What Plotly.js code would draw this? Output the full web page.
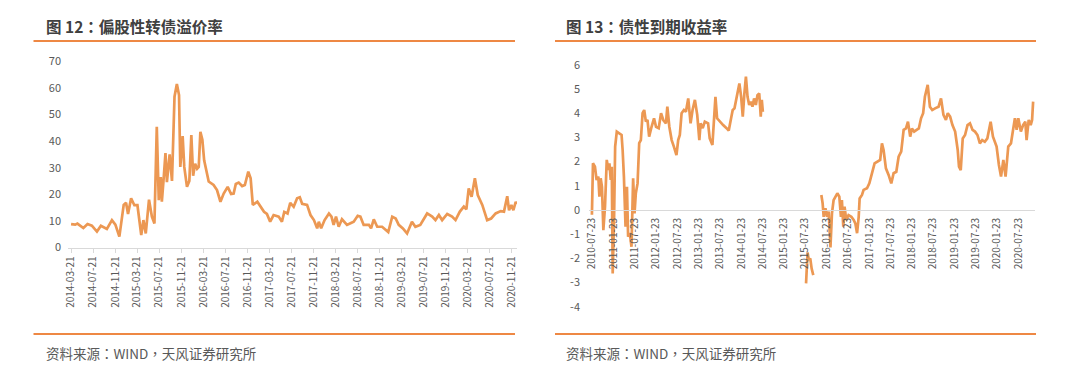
<!DOCTYPE html>
<html>
<head>
<meta charset="utf-8">
<script src="https://cdn.plot.ly/plotly-3.0.1.min.js"></script>
<style>
html,body{margin:0;padding:0;background:#fff;}
#chart{width:1080px;height:369px;}
</style>
</head>
<body>
<div id="chart"></div>
<script>
// ---------- Figure 12: 偏股性转债溢价率 ----------
const leftTitle = "图 12：偏股性转债溢价率";
const leftDates = [
"2014-03-21","2014-04-13","2014-04-25","2014-05-10","2014-05-28","2014-06-20","2014-07-14","2014-08-11","2014-09-02","2014-10-05",
"2014-11-02","2014-11-21","2014-12-13","2015-01-06","2015-01-19","2015-01-30","2015-02-16","2015-03-06","2015-03-23","2015-04-13",
"2015-04-25","2015-05-08","2015-05-26","2015-06-11","2015-06-25","2015-07-08","2015-07-19","2015-07-30","2015-08-05","2015-08-14",
"2015-08-25","2015-09-02","2015-09-17","2015-09-30","2015-10-14","2015-10-27","2015-11-08","2015-11-15","2015-11-28","2015-12-07",
"2015-12-22","2016-01-04","2016-01-15","2016-01-25","2016-02-05","2016-02-16","2016-02-25","2016-03-05","2016-03-16","2016-03-26",
"2016-04-11","2016-04-20","2016-05-17","2016-06-05","2016-06-24","2016-07-12","2016-08-03","2016-08-22","2016-09-05","2016-09-17",
"2016-10-03","2016-10-22","2016-11-06","2016-11-25","2016-12-08","2016-12-20","2017-01-14","2017-02-01","2017-02-20","2017-03-08",
"2017-03-26","2017-04-14","2017-05-12","2017-05-30","2017-06-12","2017-06-30","2017-07-15","2017-08-03","2017-08-22","2017-09-06",
"2017-09-19","2017-10-16","2017-11-04","2017-11-23","2017-12-11","2017-12-20","2018-01-02","2018-01-21","2018-02-14","2018-02-28",
"2018-03-12","2018-03-25","2018-04-09","2018-04-27","2018-05-25","2018-06-13","2018-07-01","2018-07-23","2018-08-07","2018-08-25",
"2018-09-23","2018-10-05","2018-10-20","2018-11-08","2018-12-05","2019-01-08","2019-01-30","2019-02-18","2019-03-07","2019-03-30",
"2019-04-22","2019-05-19","2019-06-07","2019-07-04","2019-08-11","2019-09-08","2019-09-26","2019-10-15","2019-11-02","2019-11-30",
"2019-12-27","2020-01-15","2020-02-08","2020-03-01","2020-03-15","2020-03-28","2020-04-13","2020-05-01","2020-05-17","2020-06-11",
"2020-07-08","2020-07-30","2020-08-24","2020-09-21","2020-10-09","2020-10-27","2020-11-06","2020-11-19","2020-11-30","2020-12-13",
"2020-12-18"];
const leftValues = [
8.8,8.6,9.0,8.2,7.3,8.8,8.2,6.0,8.2,7.0,
10.3,8.6,4.1,16.0,16.8,12.6,18.5,15.9,15.9,4.7,
10.3,5.3,18.0,11.6,9.0,45.4,17.8,26.5,17.2,25.0,
35.5,24.6,35.0,25.0,56.7,61.5,57.3,30.3,41.9,30.3,
22.8,25.0,42.3,27.0,31.5,29.6,30.3,43.5,40.5,32.8,
27.0,24.8,23.5,21.6,17.2,20.3,22.8,20.1,20.3,23.9,
24.4,23.1,23.5,28.5,26.0,16.0,17.2,15.3,13.4,12.6,
9.7,12.2,11.6,9.7,13.4,12.8,16.8,15.3,18.5,18.9,
16.4,16.0,12.2,10.3,7.2,9.7,7.2,10.3,12.8,11.6,
8.5,11.6,7.8,10.6,8.5,9.1,9.7,11.9,11.6,8.5,
8.5,7.2,10.6,7.8,7.8,5.8,11.6,10.9,8.5,7.2,
5.3,9.7,7.8,8.5,12.8,11.6,10.3,12.2,10.3,12.6,
11.6,10.3,13.5,15.4,14.3,22.2,19.1,26.0,19.7,16.0,
10.3,10.9,12.8,13.7,13.5,19.3,14.0,16.0,14.0,17.2,
16.3];
const leftXTicks = ["2014-03-21","2014-07-21","2014-11-21","2015-03-21","2015-07-21","2015-11-21","2016-03-21",
"2016-07-21","2016-11-21","2017-03-21","2017-07-21","2017-11-21","2018-03-21","2018-07-21","2018-11-21",
"2019-03-21","2019-07-21","2019-11-21","2020-03-21","2020-07-21","2020-11-21"];
const leftYTicks = [0,10,20,30,40,50,60,70];

// ---------- Figure 13: 债性到期收益率 ----------
const rightTitle = "图 13：债性到期收益率";
const rightDates = [
"2010-07-23","2010-08-01","2010-08-18","2010-09-01","2010-09-16","2010-09-25","2010-10-06","2010-10-17","2010-10-29","2010-11-12",
"2010-11-27","2010-12-11","2010-12-20","2010-12-31","2011-01-09","2011-01-17","2011-01-29","2011-02-07","2011-02-21","2011-03-11",
"2011-04-03","2011-04-12","2011-04-23","2011-05-07","2011-05-19","2011-05-29","2011-06-13","2011-06-27","2011-07-11","2011-07-23",
"2011-08-03","2011-08-18","2011-09-01","2011-09-15","2011-09-30","2011-10-14","2011-10-28","2011-11-11","2011-11-25","2011-12-16",
"2012-01-06","2012-01-23","2012-02-15","2012-03-06","2012-03-25","2012-04-17","2012-04-29","2012-05-16","2012-06-05","2012-06-24",
"2012-07-16","2012-07-31","2012-08-14","2012-08-29","2012-09-18","2012-10-05","2012-10-25","2012-11-14","2012-12-01","2012-12-21",
"2013-01-10","2013-01-28","2013-02-08","2013-02-26","2013-03-16","2013-04-13","2013-04-27","2013-05-20","2013-06-04","2013-06-15",
"2013-06-29","2013-07-22","2013-08-20","2013-09-18","2013-10-07","2013-10-27","2013-11-10","2013-11-25","2013-12-09","2013-12-23",
"2014-01-06","2014-01-21","2014-02-04","2014-02-18","2014-03-03","2014-03-17","2014-03-31","2014-04-14","2014-04-28","2014-05-12",
"2014-05-27","2014-06-10","2014-06-25","2014-07-08","2014-07-17","2014-07-26",
"2015-01-01",
"2015-07-31","2015-08-13","2015-08-24","2015-09-05","2015-09-17","2015-10-01",
"2015-11-01",
"2015-12-09","2015-12-20","2015-12-29","2016-01-13","2016-01-27","2016-02-10","2016-02-25","2016-03-09","2016-03-23","2016-04-06",
"2016-04-24","2016-05-11","2016-05-25","2016-06-02","2016-06-14","2016-06-25","2016-07-09","2016-07-29","2016-08-22","2016-09-11",
"2016-09-25","2016-10-10","2016-10-24","2016-11-01","2016-11-21","2016-12-05","2017-01-03","2017-01-23","2017-02-15","2017-03-09",
"2017-04-26","2017-05-11","2017-05-25","2017-06-14","2017-07-07","2017-07-30","2017-08-19","2017-09-11","2017-10-01","2017-10-23",
"2017-11-13","2017-12-03","2017-12-20","2018-01-08","2018-01-23","2018-02-11","2018-03-04","2018-03-23","2018-04-11","2018-04-29",
"2018-05-14","2018-06-07","2018-06-26","2018-07-16","2018-08-09","2018-09-08","2018-09-29","2018-10-20","2018-11-10","2018-11-26",
"2018-12-16","2019-01-05","2019-01-28","2019-02-19","2019-03-02","2019-03-17","2019-04-03","2019-04-23","2019-05-14","2019-06-04",
"2019-06-26","2019-07-17","2019-08-07","2019-08-28","2019-09-17","2019-10-09","2019-10-31","2019-11-28","2019-12-18","2020-01-18",
"2020-02-07","2020-02-25","2020-03-16","2020-04-04","2020-04-27","2020-05-20","2020-06-09","2020-06-23","2020-07-08","2020-07-22",
"2020-08-13","2020-09-01","2020-09-20","2020-10-01","2020-10-19","2020-11-05","2020-11-17","2020-11-26"];
const rightValues = [
-0.2,1.93,1.79,1.24,1.38,0.55,1.31,0.96,-0.83,0.14,
2.07,1.65,1.93,1.24,1.79,-2.62,-0.28,2.62,3.24,3.17,
3.10,2.48,1.38,-0.69,0.96,-1.10,-0.96,-1.52,1.31,-0.14,
0.69,1.10,2.76,2.89,4.0,4.13,3.65,3.72,3.03,3.44,
3.79,3.44,3.38,4.0,3.72,3.58,4.27,3.44,2.89,2.62,
2.27,2.89,3.10,4.0,4.13,4.06,4.61,3.58,4.13,4.55,
3.93,2.89,3.58,3.38,3.65,3.58,2.96,2.69,3.65,4.68,
3.79,3.65,3.51,3.38,3.28,3.79,4.13,4.2,4.55,4.82,
5.23,4.68,3.86,4.82,5.51,4.68,4.34,4.48,4.27,4.61,
4.34,4.75,4.82,3.86,4.55,4.06,
null,
-3.03,-1.76,-2.07,-2.0,-2.42,-2.69,
null,
0.62,0.28,-0.28,0.07,-0.28,-0.07,-1.55,-0.14,0.41,0.55,
0.69,0.55,-0.28,0.41,-0.69,0.14,-0.41,-0.21,-0.28,-0.41,
-0.55,-0.96,-0.28,0.48,0.62,0.83,0.90,1.10,1.52,1.93,
2.07,2.75,2.48,1.72,1.45,1.10,1.52,1.58,2.2,2.41,
3.31,3.37,3.65,3.03,3.37,3.24,3.31,3.37,3.79,4.0,
4.68,5.17,4.27,4.13,4.2,4.27,4.61,3.93,3.72,4.0,
3.86,3.51,3.24,2.48,1.79,1.65,2.96,3.1,3.51,3.58,
3.31,3.24,3.1,2.75,2.89,2.82,2.96,3.65,3.03,2.62,
1.86,1.38,2.07,1.38,2.62,2.75,3.37,3.79,3.31,3.79,
3.24,3.51,3.65,2.89,3.72,3.51,3.72,4.48];
const rightXTicks = ["2010-07-23","2011-01-23","2011-07-23","2012-01-23","2012-07-23","2013-01-23","2013-07-23",
"2014-01-23","2014-07-23","2015-01-23","2015-07-23","2016-01-23","2016-07-23","2017-01-23","2017-07-23",
"2018-01-23","2018-07-23","2019-01-23","2019-07-23","2020-01-23","2020-07-23"];
const rightYTicks = [-4,-3,-2,-1,0,1,2,3,4,5,6];
const rightYTickText = ["-4","-3","-2","-1","0","1","2","3","4","5","6"];

const sourceText = "资料来源：WIND，天风证券研究所";

// ---------- layout helpers (pixel -> paper) ----------
const W = 1080, H = 369;
const px = v => v / W;
const py = v => 1 - v / H;

const LINE = "#EC9853";
const RULE = "#EE8844";
const AXIS = "#D9D9D9";
const TXT = "#595959";
const FONT = "Noto Sans CJK SC, Noto Sans, sans-serif";
const CJK = "Noto Sans CJK TC, Noto Sans CJK SC, sans-serif";

const y2Domain = [py(306.8), py(64.8)];
const y2Range = [-4, 6];
const zeroPos = y2Domain[0] + (y2Domain[1] - y2Domain[0]) * (0 - y2Range[0]) / (y2Range[1] - y2Range[0]);

const traces = [
  {x: leftDates, y: leftValues, type: "scatter", mode: "lines", xaxis: "x", yaxis: "y",
   line: {color: LINE, width: 2.7}, hoverinfo: "skip"},
  {x: rightDates, y: rightValues, type: "scatter", mode: "lines", xaxis: "x2", yaxis: "y2",
   line: {color: LINE, width: 2.7}, connectgaps: false, hoverinfo: "skip"}
];

const layout = {
  width: W, height: H,
  margin: {l: 0, r: 0, t: 0, b: 0},
  paper_bgcolor: "#fff", plot_bgcolor: "rgba(0,0,0,0)",
  showlegend: false,
  font: {family: FONT, color: TXT},
  xaxis: {
    domain: [px(68), px(517)], anchor: "y", type: "date",
    range: ["2014-03-04", "2020-12-20"],
    tickvals: leftXTicks, ticktext: leftXTicks, tickangle: -90,
    ticks: "outside", ticklen: 4, tickcolor: AXIS, tickwidth: 1,
    showline: true, linecolor: AXIS, linewidth: 1,
    showgrid: false, zeroline: false,
    tickfont: {size: 10, color: TXT, family: FONT}
  },
  yaxis: {
    domain: [py(247.5), py(61.3)], anchor: "x",
    range: [0, 70], tickvals: leftYTicks,
    showgrid: false, zeroline: false, showline: false, ticks: "",
    ticklabelstandoff: 6,
    tickfont: {size: 11, color: TXT, family: FONT}
  },
  xaxis2: {
    domain: [px(589), px(1035)], anchor: "free", position: zeroPos, type: "date",
    range: ["2010-06-28", "2020-12-12"],
    tickvals: rightXTicks, ticktext: rightXTicks, tickangle: -90,
    ticks: "", showline: true, linecolor: AXIS, linewidth: 1,
    showgrid: false, zeroline: false, ticklabelstandoff: 3,
    tickfont: {size: 10, color: TXT, family: FONT}
  },
  yaxis2: {
    domain: y2Domain, anchor: "x2",
    range: y2Range, tickvals: rightYTicks, ticktext: rightYTickText,
    showgrid: false, zeroline: false, showline: false, ticks: "",
    ticklabelstandoff: 8,
    tickfont: {size: 11, color: TXT, family: FONT}
  },
  shapes: [
    {type: "line", xref: "paper", yref: "paper", x0: px(33.5), x1: px(515), y0: py(41), y1: py(41), line: {color: RULE, width: 2}},
    {type: "line", xref: "paper", yref: "paper", x0: px(555), x1: px(1036), y0: py(41), y1: py(41), line: {color: RULE, width: 2}},
    {type: "line", xref: "paper", yref: "paper", x0: px(33.5), x1: px(515), y0: py(334), y1: py(334), line: {color: RULE, width: 2}},
    {type: "line", xref: "paper", yref: "paper", x0: px(555), x1: px(1036), y0: py(334), y1: py(334), line: {color: RULE, width: 2}}
  ],
  annotations: [
    {text: "<b>" + leftTitle + "</b>", xref: "paper", yref: "paper", x: px(44), y: py(26), xanchor: "left", yanchor: "middle",
     showarrow: false, font: {size: 15.5, color: "#404040", family: CJK}},
    {text: "<b>" + rightTitle + "</b>", xref: "paper", yref: "paper", x: px(564), y: py(26), xanchor: "left", yanchor: "middle",
     showarrow: false, font: {size: 15.5, color: "#404040", family: CJK}},
    {text: sourceText, xref: "paper", yref: "paper", x: px(44), y: py(353), xanchor: "left", yanchor: "middle",
     showarrow: false, font: {size: 13.5, color: TXT, family: CJK}},
    {text: sourceText, xref: "paper", yref: "paper", x: px(564), y: py(353), xanchor: "left", yanchor: "middle",
     showarrow: false, font: {size: 13.5, color: TXT, family: CJK}}
  ]
};

Plotly.newPlot("chart", traces, layout, {staticPlot: true, displayModeBar: false});
</script>
</body>
</html>
